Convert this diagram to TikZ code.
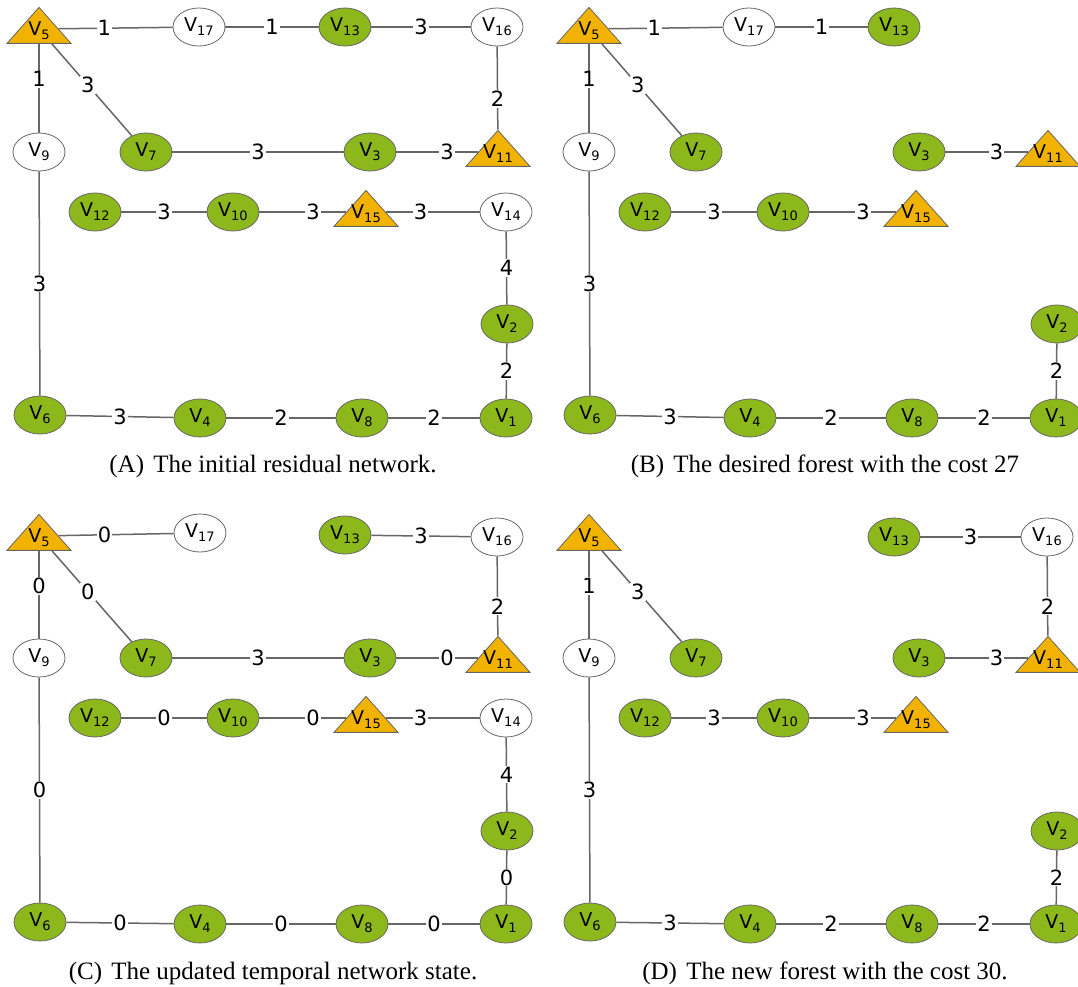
\documentclass[tikz,border=0pt]{standalone}
\usepackage{fontspec}
\usepackage{tikz}
\usetikzlibrary{shapes.geometric}
\setmainfont{Liberation Serif}
\newfontfamily\dejavu{DejaVu Sans}
\definecolor{leafgreen}{HTML}{8CB81C}
\definecolor{amber}{HTML}{F2B300}
\definecolor{linegray}{HTML}{666666}
\newcommand{\vn}[1]{V\raisebox{-4pt}{\fontsize{13}{13}\selectfont #1}}
\newcommand{\vt}[1]{\makebox[0pt]{\raisebox{-6.5pt}[0pt][0pt]{\vn{#1}}}}
\tikzset{
  vtx/.style={ellipse, draw=linegray, line width=0.8pt, minimum width=52pt, minimum height=38pt, inner sep=0pt, font=\dejavu\fontsize{19}{19}\selectfont},
  grn/.style={vtx, fill=leafgreen},
  wht/.style={vtx, fill=white},
  tri/.style={isosceles triangle, isosceles triangle stretches, shape border rotate=90, draw=linegray, line width=0.8pt, fill=amber, minimum width=64pt, minimum height=36pt, inner sep=0pt, font=\dejavu\fontsize{19}{19}\selectfont},
  wt/.style={fill=white, inner sep=1pt, font=\dejavu\fontsize{21}{21}\selectfont},
  link/.style={draw=linegray, line width=1.5pt},
  caption/.style={font=\fontsize{25}{25}\selectfont}
}

\begin{document}
\begin{tikzpicture}[x=1pt, y=-1pt]
		\useasboundingbox (0,0) rectangle (1078,987);
		\clip (0,0) rectangle (1078,987);
		% (A) residual network
		\node[tri] (a5) at (39,29) {\vt{5}};
		\node[wht] (a17) at (199,27) {\vn{17}};
		\node[grn] (a13) at (345,27) {\vn{13}};
		\node[wht] (a16) at (497,27) {\vn{16}};
		\node[wht] (a9) at (39,152) {\vn{9}};
		\node[grn] (a7) at (146,152) {\vn{7}};
		\node[grn] (a3) at (370,152) {\vn{3}};
		\node[tri] (a11) at (498,152) {\vt{11}};
		\node[grn] (a12) at (95,212) {\vn{12}};
		\node[grn] (a10) at (233,212) {\vn{10}};
		\node[tri] (a15) at (366,212) {\vt{15}};
		\node[wht] (a14) at (506,212) {\vn{14}};
		\node[grn] (a2) at (507,324) {\vn{2}};
		\node[grn] (a6) at (40,415) {\vn{6}};
		\node[grn] (a4) at (200,418) {\vn{4}};
		\node[grn] (a8) at (362,418) {\vn{8}};
		\node[grn] (a1) at (506,418) {\vn{1}};
		\draw[link] (a5) -- node[wt, pos=.4] {1} (a17);
		\draw[link] (a17) -- node[wt] {1} (a13);
		\draw[link] (a13) -- node[wt] {3} (a16);
		\draw[link] (a5) -- node[wt, pos=.4] {1} (a9);
		\draw[link] (a5) -- node[wt, pos=.45] {3} (a7);
		\draw[link] (a16) -- node[wt, pos=.63] {2} (a11);
		\draw[link] (a7) -- node[wt] {3} (a3);
		\draw[link] (a3) -- node[wt, pos=.62] {3} (a11);
		\draw[link] (a12) -- node[wt] {3} (a10);
		\draw[link] (a10) -- node[wt, pos=.62] {3} (a15);
		\draw[link] (a15) -- node[wt, pos=.37] {3} (a14);
		\draw[link] (a14) -- node[wt] {4} (a2);
		\draw[link] (a9) -- node[wt] {3} (a6);
		\draw[link] (a2) -- node[wt] {2} (a1);
		\draw[link] (a6) -- node[wt] {3} (a4);
		\draw[link] (a4) -- node[wt] {2} (a8);
		\draw[link] (a8) -- node[wt] {2} (a1);
		\node[caption] (capa) at (273,466) {(A)\kern3pt\ The initial residual network.};
		% (B) forest with cost 27
		\begin{scope}[shift={(550,0)}]
		\node[tri] (b5) at (39,29) {\vt{5}};
		\node[wht] (b17) at (199,27) {\vn{17}};
		\node[grn] (b13) at (344,27) {\vn{13}};
		\node[wht] (b9) at (39,152) {\vn{9}};
		\node[grn] (b7) at (146,152) {\vn{7}};
		\node[grn] (b3) at (369,152) {\vn{3}};
		\node[tri] (b11) at (498,152) {\vt{11}};
		\node[grn] (b12) at (95,212) {\vn{12}};
		\node[grn] (b10) at (233,212) {\vn{10}};
		\node[tri] (b15) at (366,212) {\vt{15}};
		\node[grn] (b2) at (507,324) {\vn{2}};
		\node[grn] (b6) at (40,415) {\vn{6}};
		\node[grn] (b4) at (200,418) {\vn{4}};
		\node[grn] (b8) at (362,418) {\vn{8}};
		\node[grn] (b1) at (506,418) {\vn{1}};
		\draw[link] (b5) -- node[wt, pos=.4] {1} (b17);
		\draw[link] (b17) -- node[wt] {1} (b13);
		\draw[link] (b5) -- node[wt, pos=.4] {1} (b9);
		\draw[link] (b5) -- node[wt, pos=.45] {3} (b7);
		\draw[link] (b3) -- node[wt, pos=.62] {3} (b11);
		\draw[link] (b12) -- node[wt] {3} (b10);
		\draw[link] (b10) -- node[wt, pos=.62] {3} (b15);
		\draw[link] (b9) -- node[wt] {3} (b6);
		\draw[link] (b2) -- node[wt] {2} (b1);
		\draw[link] (b6) -- node[wt] {3} (b4);
		\draw[link] (b4) -- node[wt] {2} (b8);
		\draw[link] (b8) -- node[wt] {2} (b1);
		\node[caption] (capb) at (275,466) {(B)\kern3pt\ The desired forest with the cost 27};
		\end{scope}
		% (C) updated temporal network
		\begin{scope}[shift={(0,507)}]
		\node[tri] (c5) at (39,29) {\vt{5}};
		\node[wht] (c17) at (200,26) {\vn{17}};
		\node[grn] (c13) at (345,28) {\vn{13}};
		\node[wht] (c16) at (497,30) {\vn{16}};
		\node[wht] (c9) at (39,151) {\vn{9}};
		\node[grn] (c7) at (146,151) {\vn{7}};
		\node[grn] (c3) at (370,151) {\vn{3}};
		\node[tri] (c11) at (498,151) {\vt{11}};
		\node[grn] (c12) at (95,211) {\vn{12}};
		\node[grn] (c10) at (233,211) {\vn{10}};
		\node[tri] (c15) at (366,211) {\vt{15}};
		\node[wht] (c14) at (506,211) {\vn{14}};
		\node[grn] (c2) at (507,324) {\vn{2}};
		\node[grn] (c6) at (40,415) {\vn{6}};
		\node[grn] (c4) at (200,417) {\vn{4}};
		\node[grn] (c8) at (362,417) {\vn{8}};
		\node[grn] (c1) at (506,417) {\vn{1}};
		\draw[link] (c5) -- node[wt, pos=.4] {0} (c17);
		\draw[link] (c13) -- node[wt] {3} (c16);
		\draw[link] (c5) -- node[wt, pos=.4] {0} (c9);
		\draw[link] (c5) -- node[wt, pos=.45] {0} (c7);
		\draw[link] (c16) -- node[wt, pos=.63] {2} (c11);
		\draw[link] (c7) -- node[wt] {3} (c3);
		\draw[link] (c3) -- node[wt, pos=.62] {0} (c11);
		\draw[link] (c12) -- node[wt] {0} (c10);
		\draw[link] (c10) -- node[wt, pos=.62] {0} (c15);
		\draw[link] (c15) -- node[wt, pos=.37] {3} (c14);
		\draw[link] (c14) -- node[wt] {4} (c2);
		\draw[link] (c9) -- node[wt] {0} (c6);
		\draw[link] (c2) -- node[wt] {0} (c1);
		\draw[link] (c6) -- node[wt] {0} (c4);
		\draw[link] (c4) -- node[wt] {0} (c8);
		\draw[link] (c8) -- node[wt] {0} (c1);
		\node[caption] (capc) at (273,466) {(C)\kern3pt\ The updated temporal network state.};
		\end{scope}
		% (D) new forest with cost 30
		\begin{scope}[shift={(550,507)}]
		\node[tri] (d5) at (39,29) {\vt{5}};
		\node[grn] (d13) at (344,30) {\vn{13}};
		\node[wht] (d16) at (497,30) {\vn{16}};
		\node[wht] (d9) at (39,151) {\vn{9}};
		\node[grn] (d7) at (146,151) {\vn{7}};
		\node[grn] (d3) at (369,151) {\vn{3}};
		\node[tri] (d11) at (498,151) {\vt{11}};
		\node[grn] (d12) at (95,211) {\vn{12}};
		\node[grn] (d10) at (233,211) {\vn{10}};
		\node[tri] (d15) at (366,211) {\vt{15}};
		\node[grn] (d2) at (507,324) {\vn{2}};
		\node[grn] (d6) at (40,415) {\vn{6}};
		\node[grn] (d4) at (200,417) {\vn{4}};
		\node[grn] (d8) at (362,417) {\vn{8}};
		\node[grn] (d1) at (506,417) {\vn{1}};
		\draw[link] (d13) -- node[wt] {3} (d16);
		\draw[link] (d5) -- node[wt, pos=.4] {1} (d9);
		\draw[link] (d5) -- node[wt, pos=.45] {3} (d7);
		\draw[link] (d16) -- node[wt, pos=.63] {2} (d11);
		\draw[link] (d3) -- node[wt, pos=.62] {3} (d11);
		\draw[link] (d12) -- node[wt] {3} (d10);
		\draw[link] (d10) -- node[wt, pos=.62] {3} (d15);
		\draw[link] (d9) -- node[wt] {3} (d6);
		\draw[link] (d2) -- node[wt] {2} (d1);
		\draw[link] (d6) -- node[wt] {3} (d4);
		\draw[link] (d4) -- node[wt] {2} (d8);
		\draw[link] (d8) -- node[wt] {2} (d1);
		\node[caption] (capd) at (275,466) {(D)\kern3pt\ The new forest with the cost 30.};
		\end{scope}
	\end{tikzpicture}
\end{document}
